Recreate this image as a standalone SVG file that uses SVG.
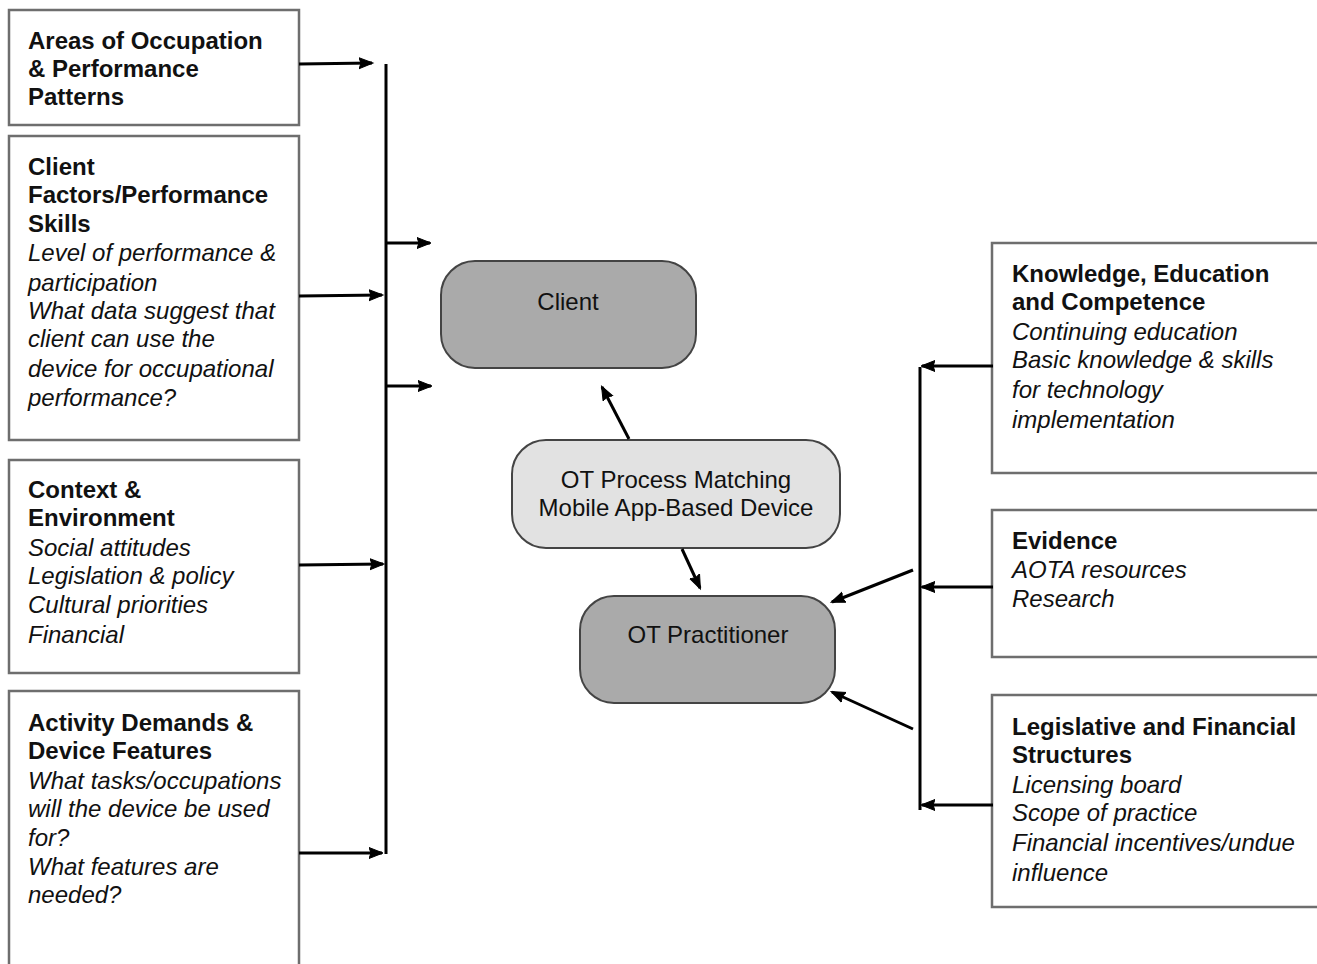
<svg xmlns="http://www.w3.org/2000/svg" width="1317" height="964" viewBox="0 0 1317 964">
<style>
.box{fill:#fff;stroke:#6e6e6e;stroke-width:2.5}
.b{font-family:"Liberation Sans",Arial,sans-serif;font-size:24px;font-weight:bold;fill:#111}
.i{font-family:"Liberation Sans",Arial,sans-serif;font-size:24px;font-style:italic;fill:#111}
.r{font-family:"Liberation Sans",Arial,sans-serif;font-size:24px;fill:#111;text-anchor:middle}
.dark{fill:#aaaaaa;stroke:#444;stroke-width:2}
.light{fill:#e2e2e2;stroke:#444;stroke-width:2}
.c{stroke:#000;stroke-width:3;fill:none}
.ca{stroke:#000;stroke-width:3;fill:none;marker-end:url(#ah)}
</style>
<defs>
<marker id="ah" markerUnits="userSpaceOnUse" markerWidth="16" markerHeight="14" refX="13" refY="6.5" orient="auto">
<path d="M0,1 L14,6.5 L0,12 L2,6.5 Z" fill="#000" stroke="#000" stroke-width="1"/>
</marker>
</defs>
<rect width="1317" height="964" fill="#fff"/>

<g id="areas">
<rect class="box" x="9" y="10" width="290" height="115"/>
<text class="b" x="28" y="49">Areas of Occupation</text>
<text class="b" x="28" y="77">&amp; Performance</text>
<text class="b" x="28" y="105">Patterns</text>
</g>

<g id="client-factors">
<rect class="box" x="9" y="136" width="290" height="304"/>
<text class="b" x="28" y="175">Client</text>
<text class="b" x="28" y="203">Factors/Performance</text>
<text class="b" x="28" y="232">Skills</text>
<text class="i" x="28" y="261">Level of performance &amp;</text>
<text class="i" x="28" y="291">participation</text>
<text class="i" x="28" y="319">What data suggest that</text>
<text class="i" x="28" y="347">client can use the</text>
<text class="i" x="28" y="377">device for occupational</text>
<text class="i" x="28" y="406">performance?</text>
</g>

<g id="context">
<rect class="box" x="9" y="460" width="290" height="213"/>
<text class="b" x="28" y="498">Context &amp;</text>
<text class="b" x="28" y="526">Environment</text>
<text class="i" x="28" y="556">Social attitudes</text>
<text class="i" x="28" y="584">Legislation &amp; policy</text>
<text class="i" x="28" y="613">Cultural priorities</text>
<text class="i" x="28" y="643">Financial</text>
</g>

<g id="activity">
<path class="box" d="M9,966 L9,691 L299,691 L299,966"/>
<text class="b" x="28" y="731">Activity Demands &amp;</text>
<text class="b" x="28" y="759">Device Features</text>
<text class="i" x="28" y="789">What tasks/occupations</text>
<text class="i" x="28" y="817">will the device be used</text>
<text class="i" x="28" y="846">for?</text>
<text class="i" x="28" y="875">What features are</text>
<text class="i" x="28" y="903">needed?</text>
</g>

<g id="client">
<rect class="dark" x="441" y="261" width="255" height="107" rx="34"/>
<text class="r" x="568" y="310">Client</text>
</g>

<g id="ot-process">
<rect class="light" x="512" y="440" width="328" height="108" rx="34"/>
<text class="r" x="676" y="488">OT Process Matching</text>
<text class="r" x="676" y="516">Mobile App-Based Device</text>
</g>

<g id="ot-practitioner">
<rect class="dark" x="580" y="596" width="255" height="107" rx="34"/>
<text class="r" x="708" y="643">OT Practitioner</text>
</g>

<g id="knowledge">
<path class="box" d="M1319,243 L992,243 L992,473 L1319,473"/>
<text class="b" x="1012" y="282">Knowledge, Education</text>
<text class="b" x="1012" y="310">and Competence</text>
<text class="i" x="1012" y="340">Continuing education</text>
<text class="i" x="1012" y="368">Basic knowledge &amp; skills</text>
<text class="i" x="1012" y="398">for technology</text>
<text class="i" x="1012" y="428">implementation</text>
</g>

<g id="evidence">
<path class="box" d="M1319,510 L992,510 L992,657 L1319,657"/>
<text class="b" x="1012" y="549">Evidence</text>
<text class="i" x="1012" y="578">AOTA resources</text>
<text class="i" x="1012" y="607">Research</text>
</g>

<g id="legislative">
<path class="box" d="M1319,695 L992,695 L992,907 L1319,907"/>
<text class="b" x="1012" y="735">Legislative and Financial</text>
<text class="b" x="1012" y="763">Structures</text>
<text class="i" x="1012" y="793">Licensing board</text>
<text class="i" x="1012" y="821">Scope of practice</text>
<text class="i" x="1012" y="851">Financial incentives/undue</text>
<text class="i" x="1012" y="881">influence</text>
</g>

<g id="connectors">
<line class="c" x1="386" y1="64" x2="386" y2="854"/>
<line class="ca" x1="299" y1="64" x2="372" y2="63"/>
<line class="ca" x1="299" y1="296" x2="382" y2="295"/>
<line class="ca" x1="299" y1="565" x2="383" y2="564"/>
<line class="ca" x1="299" y1="853" x2="382" y2="853"/>
<line class="ca" x1="386" y1="243" x2="430" y2="243"/>
<line class="ca" x1="386" y1="386" x2="431" y2="386"/>
<line class="ca" x1="629" y1="439" x2="602" y2="387"/>
<line class="ca" x1="682" y1="549" x2="700" y2="588"/>
<line class="c" x1="920" y1="367" x2="920" y2="810"/>
<line class="ca" x1="993" y1="366" x2="922" y2="366"/>
<line class="ca" x1="993" y1="587" x2="922" y2="587"/>
<line class="ca" x1="993" y1="805" x2="922" y2="805"/>
<line class="ca" x1="913" y1="570" x2="832" y2="602"/>
<line class="ca" x1="913" y1="729" x2="832" y2="692"/>
</g>
</svg>
